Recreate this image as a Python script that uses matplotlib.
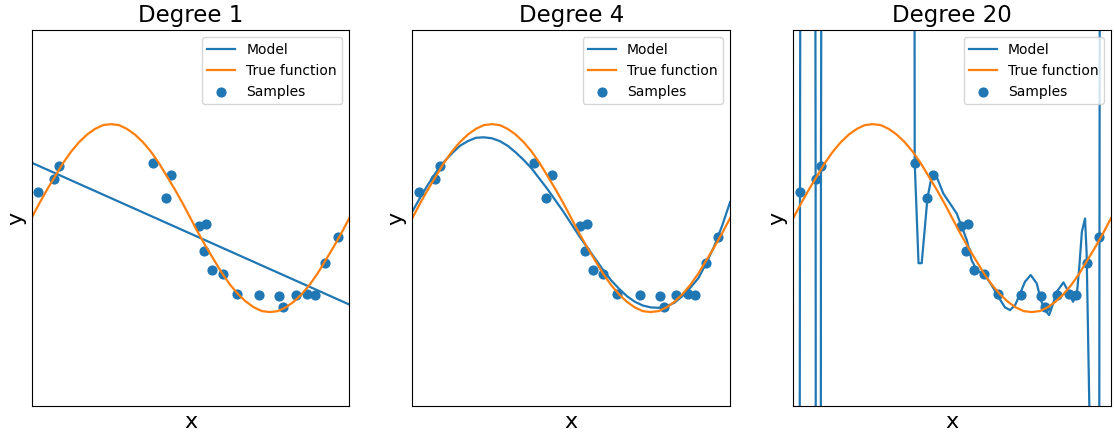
import matplotlib
matplotlib.use("Agg")
import matplotlib.pyplot as plt

# samples
sample_x = [0.021, 0.070, 0.087, 0.382, 0.422, 0.438, 0.528, 0.543, 0.549, 0.568,
            0.601, 0.645, 0.715, 0.778, 0.791, 0.831, 0.868, 0.891, 0.925, 0.963]
sample_y = [0.28, 0.415, 0.557, 0.589, 0.209, 0.454, -0.085, -0.348, -0.067, -0.553,
            -0.592, -0.809, -0.816, -0.830, -0.943, -0.819, -0.812, -0.819, -0.479, -0.206]

# true function curve
true_x = [0.0, 0.025, 0.05, 0.075, 0.1, 0.125, 0.15, 0.175, 0.2, 0.225,
          0.25, 0.275, 0.3, 0.325, 0.35, 0.375, 0.4, 0.425, 0.45, 0.475,
          0.5, 0.525, 0.55, 0.575, 0.6, 0.625, 0.65, 0.675, 0.7, 0.725,
          0.75, 0.775, 0.8, 0.825, 0.85, 0.875, 0.9, 0.925, 0.95, 0.975, 1.0]
true_y = [0.00, 0.16, 0.31, 0.45, 0.59, 0.71, 0.81, 0.89, 0.95, 0.99,
          1.00, 0.99, 0.95, 0.89, 0.81, 0.71, 0.59, 0.45, 0.31, 0.16,
          0.00, -0.16, -0.31, -0.45, -0.59, -0.71, -0.81, -0.89, -0.95, -0.99,
          -1.00, -0.99, -0.95, -0.89, -0.81, -0.71, -0.59, -0.45, -0.31, -0.16, 0.00]

# model curves
deg1_x = [0.0, 1.0]
deg1_y = [0.59, -0.92]

deg4_x = true_x
deg4_y = [0.07, 0.22, 0.36, 0.49, 0.60, 0.69, 0.77, 0.82, 0.855, 0.86,
          0.85, 0.82, 0.77, 0.70, 0.62, 0.53, 0.42, 0.31, 0.19, 0.07,
          -0.06, -0.19, -0.31, -0.43, -0.55, -0.66, -0.75, -0.83, -0.89, -0.93,
          -0.95, -0.955, -0.94, -0.90, -0.83, -0.74, -0.64, -0.48, -0.30, -0.08, 0.17]

deg20_x = [0.0, 0.021, 0.045, 0.0702, 0.078, 0.087, 0.2, 0.37, 0.382, 0.394, 0.404,
           0.422, 0.435, 0.439, 0.451, 0.472, 0.493, 0.514, 0.530, 0.546, 0.561,
           0.577, 0.603, 0.624, 0.645, 0.666, 0.682, 0.698, 0.714, 0.729, 0.747,
           0.766, 0.779, 0.792, 0.805, 0.816, 0.829, 0.850, 0.866, 0.880, 0.892,
           0.900, 0.908, 0.918, 0.923, 0.932, 0.945, 0.9634, 0.985, 1.0]
deg20_y = [-60, 0.28, 60, 0.415, -60, 0.557, 200, 40, 0.589, -0.48, -0.48,
           0.21, 0.44, 0.468, 0.44, 0.262, 0.156, 0.05, -0.092, -0.234, -0.447,
           -0.553, -0.606, -0.713, -0.837, -0.95, -0.979, -0.926, -0.80, -0.677, -0.606,
           -0.695, -0.872, -0.979, -1.032, -0.926, -0.784, -0.684, -0.784, -0.89, -0.819,
           -0.518, -0.146, -0.004, -0.376, -2.1, -60, -0.206, 60, 100]

titles = ["Degree 1", "Degree 4", "Degree 20"]
models = [(deg1_x, deg1_y), (deg4_x, deg4_y), (deg20_x, deg20_y)]

fig = plt.figure(figsize=(11.15, 4.37), dpi=100)
lefts = [0.0283, 0.3698, 0.7115]

for i in range(3):
    ax = fig.add_axes([lefts[i], 0.0709, 0.285, 0.860])
    mx, my = models[i]
    ax.plot(mx, my, color="C0", lw=1.6, label="Model")
    ax.plot(true_x, true_y, color="C1", lw=1.6, label="True function")
    ax.scatter(sample_x, sample_y, color="C0", s=40, label="Samples")
    ax.set_xlim(0, 1)
    ax.set_ylim(-2, 2)
    ax.set_xticks([])
    ax.set_yticks([])
    ax.set_xlabel("x", fontsize=16)
    ax.set_ylabel("y", fontsize=16)
    ax.set_title(titles[i], fontsize=16.5)
    ax.legend(loc="upper right", fontsize=10)

fig.savefig("out.png", dpi=100)
